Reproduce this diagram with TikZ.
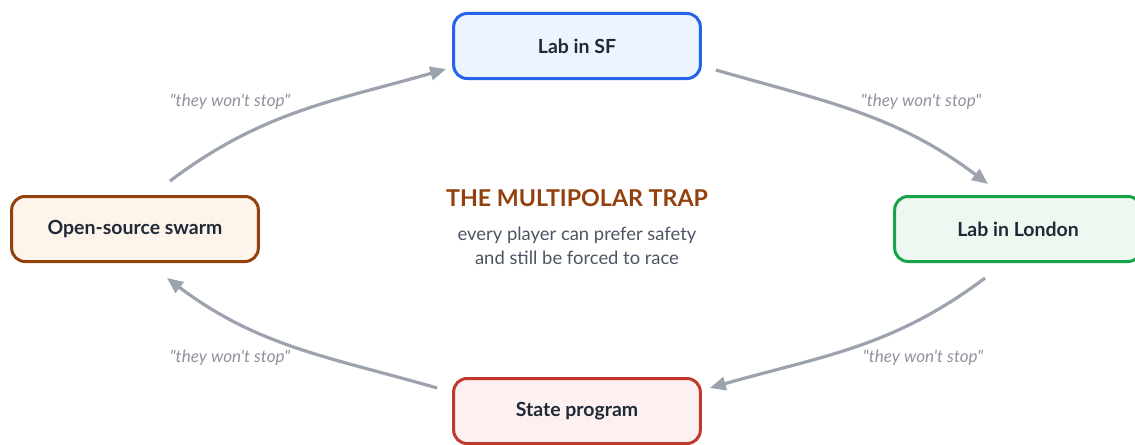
\documentclass[tikz,border=0pt]{standalone}
\usepackage{fontspec}
\setmainfont{Lato}[Ligatures=TeXOff]
\usepackage{xcolor}
\usetikzlibrary{arrows.meta,positioning}
\definecolor{TrapBlue}{HTML}{2563EB}
\definecolor{TrapBlueSoft}{HTML}{EEF4FE}
\definecolor{TrapBrown}{HTML}{92400E}
\definecolor{TrapBrownSoft}{HTML}{FDF5EB}
\definecolor{TrapGreen}{HTML}{16A34A}
\definecolor{TrapGreenSoft}{HTML}{EEF8F1}
\definecolor{TrapRed}{HTML}{C0392B}
\definecolor{TrapRedSoft}{HTML}{FCF1F0}
\definecolor{TrapInk}{HTML}{1F2937}
\definecolor{TrapText}{HTML}{4B5563}
\definecolor{TrapGrey}{HTML}{9CA3AF}
\definecolor{TrapQuote}{HTML}{8E939C}

\begin{document}
\begin{tikzpicture}[
  x=0.75pt, y=0.75pt,
  player/.style={draw=#1, fill=#1Soft, line width=2.25pt, rounded corners=10pt,
    minimum width=185pt, minimum height=48.75pt, align=center,
    font=\bfseries\fontsize{14.6}{17}\selectfont, text=TrapInk},
  flow/.style={-{Triangle[length=12pt, width=10pt]}, line width=2.4pt, color=TrapGrey},
  quote/.style={font=\itshape\fontsize{12.8}{15}\selectfont, text=TrapQuote}
]
\useasboundingbox (0,0) rectangle (1135,444);

% the four players
\node[player=TrapBlue] (sf) at (577,398) {Lab in SF};
\node[player=TrapGreen] (london) at (1018,215) {Lab in London};
\node[player=TrapRed] (state) at (577,33) {State program};
\node[player=TrapBrown] (swarm) at (135,215) {Open-source swarm};

% centre caption
\node[font=\bfseries\fontsize{17.4}{20}\selectfont, text=TrapBrown] (title) at (577,246) {THE MULTIPOLAR TRAP};
\node[font=\fontsize{13.8}{18}\selectfont, text=TrapText, align=center] (sub) at (577,198)
  {every player can prefer safety\\and still be forced to race};

% the race loop, clockwise (steeper next to the side boxes)
\draw[flow] ([shift={(35,14)}]swarm.north) to[out=37, in=196] ([shift={(-6,-23)}]sf.west);
\draw[flow] ([shift={(14,-24)}]sf.east) to[out=-16, in=143] ([shift={(-30,11)}]london.north);
\draw[flow] ([shift={(-33,-15)}]london.south) to[out=217, in=16] ([shift={(8,23)}]state.east);
\draw[flow] ([shift={(-15,23)}]state.west) to[out=164, in=-37] ([shift={(32,-15)}]swarm.south);

\node[quote] (q1) at (230,342) {"they won't stop"};
\node[quote] (q2) at (921,342) {"they won't stop"};
\node[quote] (q3) at (923,86) {"they won't stop"};
\node[quote] (q4) at (230,86) {"they won't stop"};
\end{tikzpicture}
\end{document}
